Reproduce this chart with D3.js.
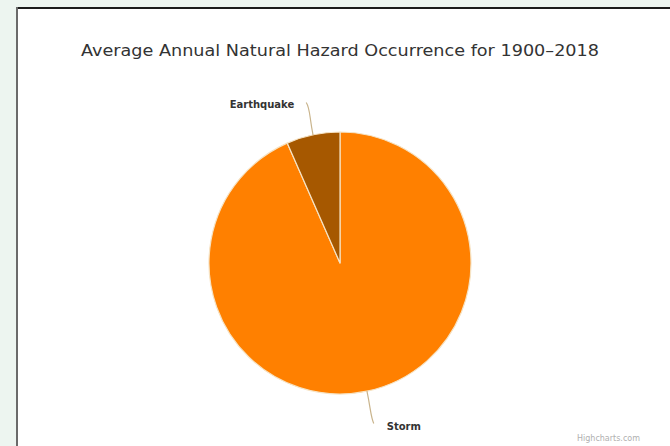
<!DOCTYPE html>
<html>
<head>
<meta charset="utf-8">
<script src="https://cdn.jsdelivr.net/npm/d3@7"></script>
<style>
  html, body { margin: 0; padding: 0; background: #edf5f0; }
  svg { display: block; }
</style>
</head>
<body>
<svg id="chart" width="670" height="446"></svg>
<script>
// Average annual occurrence share per hazard type (Storm first, drawn clockwise from 12 o'clock)
const categories = ["Storm", "Earthquake"];
const values = [93.4, 6.6];
const colors = ["#ff8000", "#a65800"];
const titleText = "Average Annual Natural Hazard Occurrence for 1900\u20132018";
const creditText = "Highcharts.com";

const svg = d3.select("#chart");
const W = 670, H = 446;

// Card panel
svg.append("rect").attr("x", 16).attr("y", 7).attr("width", W).attr("height", H)
  .attr("fill", "#ffffff");
svg.append("line").attr("x1", 16).attr("x2", W).attr("y1", 8).attr("y2", 8)
  .attr("stroke", "#1c1c1c").attr("stroke-width", 2);
svg.append("line").attr("x1", 17).attr("x2", 17).attr("y1", 7).attr("y2", H)
  .attr("stroke", "#6a6a6a").attr("stroke-width", 2);

// Title
svg.append("text")
  .attr("x", 340).attr("y", 56)
  .attr("text-anchor", "middle")
  .attr("font-family", "DejaVu Sans, sans-serif")
  .attr("font-size", 16.5)
  .attr("fill", "#333333")
  .attr("textLength", 518)
  .attr("lengthAdjust", "spacingAndGlyphs")
  .text(titleText);

const cx = 340, cy = 263, r = 131;
const data = categories.map((c, i) => ({ name: c, value: values[i], color: colors[i] }));

const pie = d3.pie().sort(null).value(d => d.value);
const arcs = pie(data);
const arc = d3.arc().innerRadius(0).outerRadius(r);

const g = svg.append("g").attr("transform", `translate(${cx},${cy})`);

g.selectAll("path.slice")
  .data(arcs)
  .enter().append("path")
  .attr("class", "slice")
  .attr("d", arc)
  .attr("fill", d => d.data.color)
  .attr("stroke", "#f6e3c4")
  .attr("stroke-width", 1.2)
  .attr("stroke-linejoin", "round");

// Data labels with curved connectors
const polar = (a, rad) => [Math.sin(a) * rad, -Math.cos(a) * rad];
arcs.forEach(d => {
  const mid = (d.startAngle + d.endAngle) / 2;
  const p0 = polar(mid, r);
  const p1 = polar(mid, r + 33);
  const c1 = polar(mid, r + 18);
  const right = Math.sin(mid) >= 0;
  const c2 = [p1[0] + (right ? -3 : 4), p1[1] + (p1[1] > 0 ? -6 : 6)];
  g.append("path")
    .attr("d", `M${p0[0]},${p0[1]} C${c1[0]},${c1[1]} ${c2[0]},${c2[1]} ${p1[0]},${p1[1]}`)
    .attr("fill", "none")
    .attr("stroke", "#c9b48c")
    .attr("stroke-width", 1.2);
  g.append("text")
    .attr("x", p1[0] + (right ? 13 : -12))
    .attr("y", p1[1] + (right ? 7 : 5))
    .attr("text-anchor", right ? "start" : "end")
    .attr("font-family", "DejaVu Sans, sans-serif")
    .attr("font-weight", "bold")
    .attr("font-size", 10)
    .attr("fill", "#333333")
    .text(d.data.name);
});

// Credits
svg.append("text")
  .attr("x", 640).attr("y", 441)
  .attr("text-anchor", "end")
  .attr("font-family", "DejaVu Sans, sans-serif")
  .attr("font-size", 8)
  .attr("fill", "#b0b0b0")
  .text(creditText);
</script>
</body>
</html>
